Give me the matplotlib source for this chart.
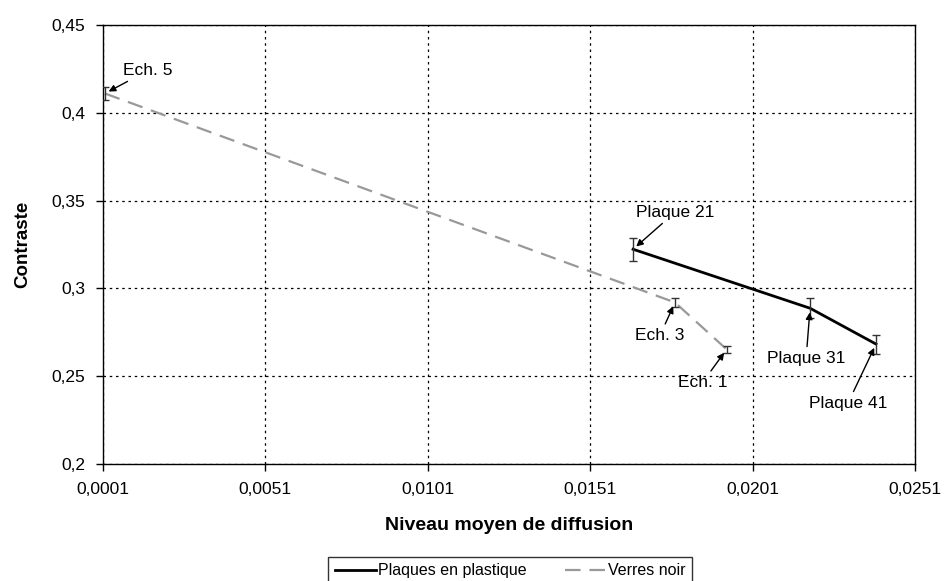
import numpy as np
import matplotlib
matplotlib.use("Agg")
import matplotlib.pyplot as plt
from matplotlib.ticker import FuncFormatter

plt.rcParams['font.family'] = ['Liberation Sans', 'DejaVu Sans']

# Plaques en plastique
plaque_x = [0.01642, 0.02187, 0.02390]
plaque_y = [0.3223, 0.2887, 0.2683]
plaque_err = [0.0065, 0.0057, 0.0054]
plaque_lab = ["Plaque 21", "Plaque 31", "Plaque 41"]

# Verres noir
verre_x = [0.00016, 0.01771, 0.0193]
verre_y = [0.4110, 0.2920, 0.2653]
verre_err = [0.0035, 0.0026, 0.0020]
verre_lab = ["Ech. 5", "Ech. 3", "Ech. 1"]

xticks = [0.0001, 0.0051, 0.0101, 0.0151, 0.0201, 0.0251]
yticks = [0.2, 0.25, 0.3, 0.35, 0.4, 0.45]

fig = plt.figure(figsize=(9.44, 5.81), dpi=100)
ax = fig.add_axes([103/944, 1-464/581, 812/944, 439/581])

l1, = ax.plot(plaque_x, plaque_y, color='black', lw=2, zorder=4)
ax.errorbar(plaque_x, plaque_y, yerr=plaque_err, fmt='none', ecolor='#333333',
            elinewidth=1, capsize=3, capthick=1, zorder=5)
l2, = ax.plot(verre_x, verre_y, color='#999999', lw=1.6, dashes=(7, 4), zorder=3)
ax.errorbar(verre_x, verre_y, yerr=verre_err, fmt='none', ecolor='#333333',
            elinewidth=1, capsize=3, capthick=1, zorder=5)

ax.set_xlim(xticks[0], xticks[-1])
ax.set_ylim(yticks[0], yticks[-1])
ax.set_xticks(xticks)
ax.set_yticks(yticks)
fmt = lambda v, p: ('%g' % round(v, 4)).replace('.', ',')
ax.xaxis.set_major_formatter(FuncFormatter(fmt))
ax.yaxis.set_major_formatter(FuncFormatter(fmt))
ax.tick_params(labelsize=12.5, direction='out', length=5, width=1, pad=8, color='black')
ax.grid(True, color='black', linestyle=(0, (2, 3)), linewidth=0.9)
for s in ax.spines.values():
    s.set_linewidth(1)

ax.set_xlabel("Niveau moyen de diffusion", fontsize=14, fontweight='bold', labelpad=14)
ax.set_ylabel("Contraste", fontsize=13.5, fontweight='bold', labelpad=14)

# annotation offsets in pixels (text centre relative to the point)
arrow = dict(arrowstyle='-|>', color='black', lw=1, mutation_scale=10, shrinkA=1, shrinkB=3)
plaque_off = [(42, 37), (-4, -50), (-28, -59)]
verre_off = [(43, 23), (-15, -33), (-24, -33)]
for xs, ys, labs, offs in [(plaque_x, plaque_y, plaque_lab, plaque_off),
                           (verre_x, verre_y, verre_lab, verre_off)]:
    for x, y, t, o in zip(xs, ys, labs, offs):
        ax.annotate(t, xy=(x, y), xytext=o, textcoords='offset pixels',
                    ha='center', va='center', fontsize=12.5, arrowprops=arrow,
                    zorder=6)

leg = fig.legend([l1, l2], ["Plaques en plastique", "Verres noir"], loc='upper center',
                 bbox_to_anchor=(510/944, 1-557/581), borderaxespad=0, ncol=2,
                 fontsize=11.5, frameon=True, fancybox=False, edgecolor='black',
                 handlelength=2.6, handletextpad=0.1, columnspacing=2.4,
                 borderpad=0.4)
leg.get_frame().set_linewidth(1)

fig.savefig("out.png", dpi=100)
